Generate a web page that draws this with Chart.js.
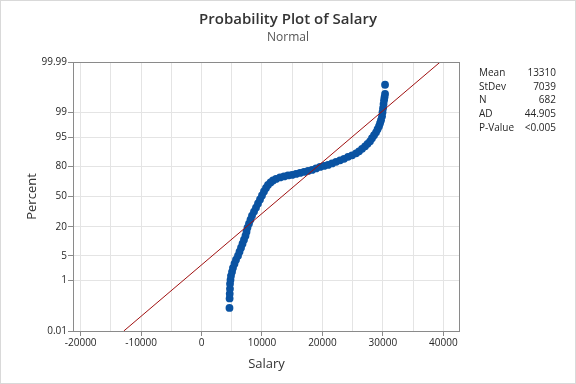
<!DOCTYPE html>
<html>
<head>
<meta charset="utf-8">
<script src="https://cdn.jsdelivr.net/npm/chart.js@4.4.1/dist/chart.umd.min.js"></script>
<style>
html,body{margin:0;padding:0;background:#fff;}
#wrap{position:relative;width:576px;height:384px;}
canvas{display:block;}
</style>
</head>
<body>
<div id="wrap"><canvas id="c" width="576" height="384"></canvas></div>
<script>
// ---- data (sorted salary vs. plotted percent) ----
const salary = [4620, 4640, 4660, 4700, 4710, 4790, 4870, 5040, 5200, 5450, 5700, 6030, 6280, 6530, 6780, 7020, 7270, 7440, 7600, 7850, 8100, 8350, 8680, 9010, 9340, 9670, 10000, 10330, 10660, 10990, 11410, 11820, 12320, 12980, 13640, 14300, 14970, 15630, 16290, 16950, 17610, 18280, 18940, 19600, 20260, 20920, 21590, 22250, 22910, 23570, 24230, 24900, 25560, 26050, 26550, 27050, 27460, 27870, 28200, 28540, 28870, 29120, 29360, 29530, 29690, 29860, 29940, 30030, 30110, 30190, 30270, 30360, 30360];
const percent = [0.103, 0.242, 0.355, 0.534, 0.787, 1.061, 1.416, 1.868, 2.437, 3.145, 4.015, 5.07, 6.35, 7.85, 9.61, 11.64, 13.96, 16.57, 19.48, 22.69, 26.17, 29.91, 33.87, 38.02, 42.31, 46.69, 51.12, 55.53, 59.33, 62.52, 65.12, 67.15, 68.65, 70.09, 71.06, 72.01, 72.47, 73.37, 74.28, 75.17, 76.05, 76.89, 78.14, 79.35, 80.14, 80.89, 82.01, 83.09, 84.11, 85.11, 86.35, 87.24, 88.36, 89.42, 90.63, 91.74, 92.74, 93.66, 94.63, 95.48, 96.21, 96.86, 97.40, 97.86, 98.25, 98.68, 99.01, 99.27, 99.47, 99.61, 99.70, 99.77, 99.90];
const yTickPercents = [0.01, 1, 5, 20, 50, 80, 95, 99, 99.99];
const xTickLabels = [-20000, -10000, 0, 10000, 20000, 30000, 40000];
const xGridValues = [-20000, -15000, -10000, -5000, 0, 5000, 10000, 15000, 20000, 25000, 30000, 35000, 40000];
const xRange = [-21270, 42760];
const fitMean = 13310;
const fitStDev = 7039;
const statLabels = ["Mean", "StDev", "N", "AD", "P-Value"];
const statValues = ["13310", "7039", "682", "44.905", "<0.005"];

// inverse normal CDF (probability-scale transform)
function normInv(p){
  const a=[-3.969683028665376e+01,2.209460984245205e+02,-2.759285104469687e+02,1.383577518672690e+02,-3.066479806614716e+01,2.506628277459239e+00];
  const b=[-5.447609879822406e+01,1.615858368580409e+02,-1.556989798598866e+02,6.680131188771972e+01,-1.328068155288572e+01];
  const c=[-7.784894002430293e-03,-3.223964580411365e-01,-2.400758277161838e+00,-2.549732539343734e+00,4.374664141464968e+00,2.938163982698783e+00];
  const d=[7.784695709041462e-03,3.224671290700398e-01,2.445134137142996e+00,3.754408661907416e+00];
  const pl=0.02425, ph=1-pl;
  if(p<pl){const q=Math.sqrt(-2*Math.log(p));return (((((c[0]*q+c[1])*q+c[2])*q+c[3])*q+c[4])*q+c[5])/((((d[0]*q+d[1])*q+d[2])*q+d[3])*q+1);}
  if(p<=ph){const q=p-0.5,r=q*q;return (((((a[0]*r+a[1])*r+a[2])*r+a[3])*r+a[4])*r+a[5])*q/(((((b[0]*r+b[1])*r+b[2])*r+b[3])*r+b[4])*r+1);}
  const q=Math.sqrt(-2*Math.log(1-p));return -(((((c[0]*q+c[1])*q+c[2])*q+c[3])*q+c[4])*q+c[5])/((((d[0]*q+d[1])*q+d[2])*q+d[3])*q+1);
}
const zMin = normInv(yTickPercents[0]/100);
const zMax = normInv(yTickPercents[yTickPercents.length-1]/100);
const points = salary.map((s,i)=>({x:s, y:normInv(percent[i]/100)}));
const fitLine = [{x: fitMean + fitStDev*zMin, y: zMin}, {x: fitMean + fitStDev*zMax, y: zMax}];
const yTickZ = yTickPercents.map(p=>normInv(p/100));

const FONT = "'Open Sans', 'Noto Sans', sans-serif";
const TXT = '#262626';

const decor = {
  id:'decor',
  beforeDraw(chart){
    const ctx=chart.ctx;
    ctx.save(); ctx.fillStyle='#fff'; ctx.fillRect(0,0,chart.width,chart.height); ctx.restore();
  },
  afterDraw(chart){
    const ctx=chart.ctx, a=chart.chartArea;
    ctx.save();
    // frame
    ctx.strokeStyle='#8a8a8a'; ctx.lineWidth=1;
    ctx.strokeRect(Math.round(a.left)+0.5, Math.round(a.top)+0.5, Math.round(a.right-a.left)-1, Math.round(a.bottom-a.top));
    // outer border
    ctx.strokeStyle='#d9d9d9';
    ctx.strokeRect(0.5,0.5,chart.width-1,chart.height-1);
    // titles
    ctx.fillStyle='#333'; ctx.textAlign='center'; ctx.textBaseline='middle';
    ctx.font="600 15px "+FONT;
    ctx.fillText('Probability Plot of Salary', 288, 20);
    ctx.fillStyle='#555'; ctx.font="12px "+FONT;
    ctx.fillText('Normal', 288, 38);
    // axis titles
    ctx.fillStyle='#333'; ctx.font="13px "+FONT;
    ctx.fillText('Salary', (a.left+a.right)/2, 364);
    ctx.save(); ctx.translate(32,(a.top+a.bottom)/2); ctx.rotate(-Math.PI/2);
    ctx.fillText('Percent',0,0); ctx.restore();
    // stats
    ctx.font="10px "+FONT; ctx.fillStyle=TXT;
    statLabels.forEach((l,i)=>{
      const y=73+i*13.8;
      ctx.textAlign='left'; ctx.fillText(l,479,y);
      ctx.textAlign='right'; ctx.fillText(statValues[i],556,y);
    });
    ctx.restore();
  }
};

new Chart(document.getElementById('c'),{
  type:'scatter',
  data:{datasets:[
    {type:'line', data:fitLine, borderColor:'#a01010', borderWidth:1, pointRadius:0, order:0, fill:false},
    {data:points, backgroundColor:'#0a53a2', borderWidth:0, pointRadius:3.9, pointHoverRadius:3.9, order:1}
  ]},
  options:{
    responsive:false, animation:false, devicePixelRatio:1,
    layout:{padding:{top:62,right:116,bottom:0,left:0}},
    plugins:{legend:{display:false}, tooltip:{enabled:false}, title:{display:false}},
    scales:{
      x:{type:'linear', min:xRange[0], max:xRange[1],
        afterBuildTicks(ax){ ax.ticks = xGridValues.map(v=>({value:v})); },
        afterFit(ax){ ax.height = 53; },
        ticks:{ autoSkip:false, maxRotation:0, padding:1, color:TXT, font:{family:FONT,size:10},
          callback:(v)=> xTickLabels.includes(v) ? String(v) : '' },
        grid:{ color:'#e4e4e4', tickLength:5,
          tickColor:(c)=> (c.tick && xTickLabels.includes(c.tick.value)) ? '#8a8a8a' : 'rgba(0,0,0,0)' },
        border:{display:false}
      },
      y:{type:'linear', min:zMin, max:zMax,
        afterBuildTicks(ax){ ax.ticks = yTickZ.map(v=>({value:v})); },
        afterFit(ax){ ax.width = 73; },
        ticks:{ autoSkip:false, padding:1, color:TXT, font:{family:FONT,size:10},
          callback:(v)=>{ const i=yTickZ.findIndex(z=>Math.abs(z-v)<1e-9); return i>=0 ? String(yTickPercents[i]) : ''; } },
        grid:{ color:'#e4e4e4', tickLength:5, tickColor:'#8a8a8a' },
        border:{display:false}
      }
    }
  },
  plugins:[decor]
});
</script>
</body>
</html>
